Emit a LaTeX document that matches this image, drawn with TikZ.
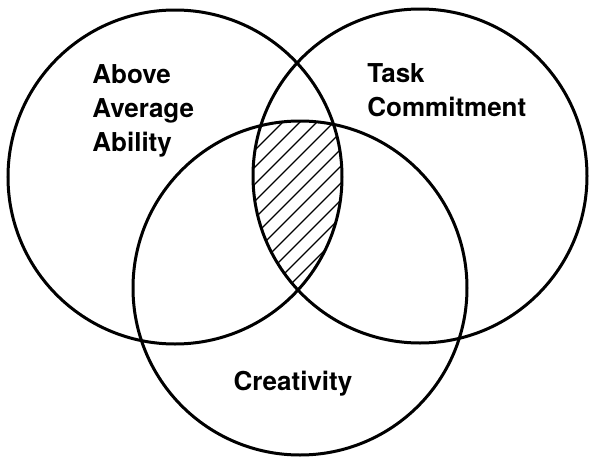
\documentclass[tikz,border=0pt]{standalone}
\usepackage{fontspec}
\setmainfont{TeX Gyre Heros}
\usepackage{tikz}

\begin{document}
\begin{tikzpicture}[x=0.5pt,y=0.5pt, every node/.style={inner sep=0pt},
  ring/.style={draw,circle,line width=1.5pt,minimum size=167pt},
  caption/.style={font=\bfseries\fontsize{13}{17}\selectfont,align=left},
  hatch/.style={line width=.6pt}]
\useasboundingbox (0,0) rectangle (590,457);
% hatched part shared by all three
\begin{scope}
\clip (175,280) circle (167);
\clip (420,281) circle (167);
\clip (300,169) circle (167);
\foreach \s in {-120,-103,...,200} \draw[hatch] (\s+100,100) -- (\s+400,400);
\end{scope}
\node[ring] (ability) at (175,280) {};
\node[ring] (task) at (420,281) {};
\node[ring] (creativity) at (300,169) {};
\node[caption,anchor=north west] (abilitytext) at (92,393) {Above\\Average\\Ability};
\node[caption,anchor=north west] (tasktext) at (367,394) {Task\\Commitment};
\node[caption,anchor=base] (creativitytext) at (293,67) {Creativity};
\end{tikzpicture}
\end{document}
